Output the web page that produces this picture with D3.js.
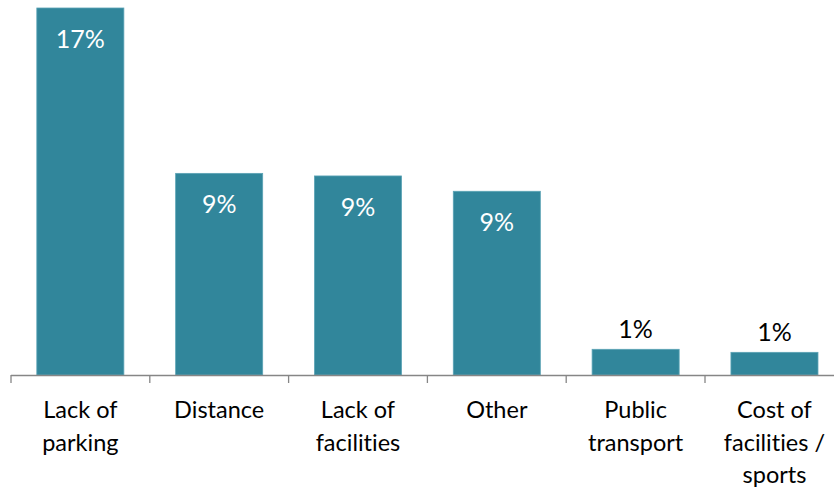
<!DOCTYPE html>
<html><head><meta charset="utf-8">
<script src="https://cdn.jsdelivr.net/npm/d3@7"></script>
<style>body{margin:0;background:#fff}svg{display:block}text{font-variant-ligatures:none;font-feature-settings:"liga" 0}</style>
</head><body>
<svg id="chart" width="834" height="489"></svg>
<script>
const categories = [["Lack of","parking"],["Distance"],["Lack of","facilities"],["Other"],["Public","transport"],["Cost of","facilities /","sports"]];
const values = [17.0, 9.34, 9.22, 8.51, 1.19, 1.05];
const valueLabels = ["17%","9%","9%","9%","1%","1%"];
const insideLabel = [true,true,true,true,false,false];

const svg = d3.select("#chart");
const font = "Lato, 'Open Sans', sans-serif";
const ids = categories.map((c,i)=>i);
const x = d3.scaleBand().domain(ids).range([11, 11 + 6*138.8]).paddingInner(0.373).paddingOuter(0.186);
const y = d3.scaleLinear().domain([0, 17]).range([375, 8]);
const color = "#31869b";

svg.selectAll("rect.bar").data(values).join("rect")
  .attr("x",(d,i)=>x(i)).attr("y",d=>y(d))
  .attr("width",x.bandwidth()).attr("height",d=>375-y(d))
  .attr("fill",color).attr("stroke","#5ba3b5").attr("stroke-width",0.8);

// axis line and ticks
const step = 138.8;
svg.append("line").attr("x1",11).attr("x2",834).attr("y1",375.5).attr("y2",375.5)
  .attr("stroke","#868686").attr("stroke-width",1.3);
svg.selectAll("line.tick").data(d3.range(7)).join("line")
  .attr("x1",i=>11+i*step).attr("x2",i=>11+i*step)
  .attr("y1",375).attr("y2",383).attr("stroke","#868686").attr("stroke-width",1.3);

// value labels
svg.selectAll("text.val").data(values).join("text")
  .attr("x",(d,i)=>x(i)+x.bandwidth()/2)
  .attr("y",(d,i)=>insideLabel[i] ? y(d)+40 : y(d)-11.5)
  .attr("text-anchor","middle").attr("font-family",font).attr("font-size",25)
  .attr("fill",(d,i)=>insideLabel[i] ? "#ffffff" : "#000000")
  .text((d,i)=>valueLabels[i]);

// category labels
const g = svg.selectAll("text.cat").data(categories).join("text")
  .attr("text-anchor","middle").attr("font-family",font).attr("font-size",23.5).attr("fill","#000");
g.each(function(lines,i){
  const t = d3.select(this);
  lines.forEach((l,j)=>{
    t.append("tspan").attr("x",x(i)+x.bandwidth()/2).attr("y",418+j*32.5).text(l);
  });
});
</script>
</body></html>
